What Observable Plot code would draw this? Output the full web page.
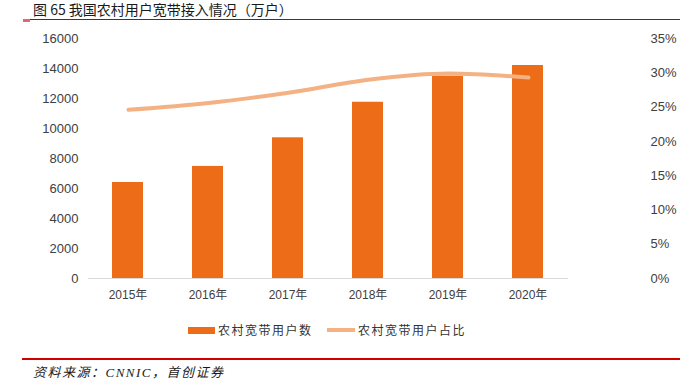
<!DOCTYPE html>
<html>
<head>
<meta charset="utf-8">
<script src="https://cdn.jsdelivr.net/npm/d3@7"></script>
<script src="https://cdn.jsdelivr.net/npm/@observablehq/plot@0.6"></script>
<style>
  html, body { margin: 0; padding: 0; background: #fff; }
  #wrap { position: relative; width: 693px; height: 380px; overflow: hidden; background: #fff; }
  #wrap > svg, #wrap > div.layer { position: absolute; left: 0; top: 0; }
  .title { position: absolute; left: 33px; top: 2px; font: 14px/14px "Noto Sans CJK SC", sans-serif; color: #1a1a1a; white-space: nowrap; }
  .rule-top { position: absolute; left: 23px; top: 19px; width: 657px; height: 1px; background: #c00000; }
  .rule-top-block { position: absolute; left: 23px; top: 19px; width: 7px; height: 3px; background: #e8646a; }
  .rule-bot { position: absolute; left: 22px; top: 358px; width: 658px; height: 2px; background: #d00000; }
  .source { position: absolute; left: 33px; top: 362px; font: italic 13px "Liberation Serif", "Noto Sans CJK SC", serif; color: #1a1a1a; letter-spacing: 1.5px; white-space: nowrap; }
  .leg-sw1 { position: absolute; left: 188px; top: 327px; width: 27px; height: 7px; background: #EC6C17; }
  .leg-sw2 { position: absolute; left: 327px; top: 328px; width: 28px; height: 4px; background: #F4B183; }
  .leg-t { position: absolute; top: 321px; font: 12px "Noto Sans CJK SC", sans-serif; color: #333; letter-spacing: 1.5px; white-space: nowrap; }
</style>
</head>
<body>
<div id="wrap"></div>
<script>
const years = ["2015年", "2016年", "2017年", "2018年", "2019年", "2020年"];
const users = [6400, 7470, 9380, 11750, 13490, 14200];
const share = [0.246, 0.256, 0.271, 0.290, 0.299, 0.293];
const yTicks = [0, 2000, 4000, 6000, 8000, 10000, 12000, 14000, 16000];
const pctTicks = [0, 0.05, 0.10, 0.15, 0.20, 0.25, 0.30, 0.35];
const seriesNames = ["农村宽带用户数", "农村宽带用户占比"];
const titleText = "图 65 我国农村用户宽带接入情况（万户）";
const sourceText = "资料来源：CNNIC，首创证券";

const data = years.map((y, i) => ({year: y, users: users[i], share: share[i]}));

const common = {
  width: 693, height: 310,
  marginTop: 38, marginBottom: 32, marginLeft: 88, marginRight: 125,
  style: {background: "transparent", fontFamily: "'Liberation Sans', Arial, 'Noto Sans CJK SC', sans-serif", fontSize: "13px", color: "#404040"}
};

const bars = Plot.plot({
  ...common,
  x: {type: "band", domain: years, paddingInner: 0.61, paddingOuter: 0.305, label: null},
  y: {domain: [0, 16000], label: null},
  marks: [
    Plot.barY(data, {x: "year", y: "users", fill: "#EC6C17"}),
    Plot.ruleY([0], {stroke: "#d9d9d9", strokeWidth: 1}),
    Plot.axisY({ticks: yTicks, tickSize: 0, tickPadding: 10, tickFormat: d3.format("d"), label: null}),
    Plot.axisX({tickSize: 0, tickPadding: 12, label: null, fontSize: 12})
  ]
});

const line = Plot.plot({
  ...common,
  x: {type: "point", domain: years, padding: 0.5, axis: null},
  y: {domain: [0, 0.35], label: null},
  marks: [
    Plot.line(data, {x: "year", y: "share", stroke: "#F4B183", strokeWidth: 4, curve: "monotone-x"}),
    Plot.axisY({anchor: "right", ticks: pctTicks, tickSize: 0, tickPadding: 82, tickFormat: d3.format(".0%"), label: null})
  ]
});

const wrap = document.getElementById("wrap");
wrap.appendChild(bars);
wrap.appendChild(line);

function add(cls, text) {
  const d = document.createElement("div");
  d.className = cls;
  if (text) d.textContent = text;
  wrap.appendChild(d);
  return d;
}
add("title", titleText);
add("rule-top");
add("rule-top-block");
add("rule-bot");
add("source", sourceText);
add("leg-sw1");
add("leg-sw2");
const t1 = add("leg-t", seriesNames[0]); t1.style.left = "218px";
const t2 = add("leg-t", seriesNames[1]); t2.style.left = "358px";
</script>
</body>
</html>
